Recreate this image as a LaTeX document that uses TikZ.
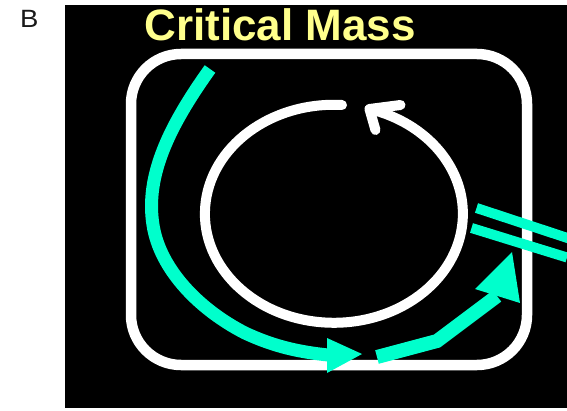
\documentclass[tikz,border=0pt]{standalone}
\usepackage{fontspec}
\setmainfont{Liberation Sans}
\usetikzlibrary{calc}
\definecolor{aqua}{RGB}{0,255,204}
\definecolor{titleyellow}{RGB}{255,255,140}
\definecolor{labelgray}{RGB}{25,25,25}
\tikzset{
  whiteline/.style={draw=white, line width=10.5pt},
  aquaband/.style={draw=aqua, line width=13pt},
  aquabar/.style={draw=aqua, line width=10pt},
}
\begin{document}
\begin{tikzpicture}[x=1pt,y=-1pt]
\useasboundingbox (0,0) rectangle (567,411);
\fill[white] (0,0) rectangle (567,411);
\fill[black] (65,5) rectangle (567,408);
% panel label
\node[font=\fontsize{25}{25}\selectfont, text=labelgray, anchor=base west, inner sep=0] (lbl) at (20,28) {\scalebox{1.1}[1]{B}};
% rounded frame
\draw[whiteline, rounded corners=50pt] (131,54) rectangle (527,365);
% cycle arrow
\draw[whiteline, line width=10pt, line cap=round, line join=round] (342,105) arc[start angle=273.6, end angle=-74, x radius=129, y radius=109] coordinate (tip);
\draw[whiteline, line width=10pt, line cap=round, line join=round] ($(tip)+(31,-4)$) -- (tip) -- ++(6,21);
% left curved arrow
\draw[aquaband] (210,69) .. controls (170,125) and (145,175) .. (153,225)
  .. controls (160,270) and (200,310) .. (245,333)
  .. controls (275,347) and (300,352) .. (328,355);
\fill[aqua] (327,338) -- (362,354) -- (327,373) -- cycle;
% right bent arrow
\draw[aquaband, line width=14pt, line join=miter] (377,357) -- (437,341) -- (497,296);
\fill[aqua] (475,289) -- (512,252) -- (520,303) -- cycle;
% double bar
\draw[aquabar] (476.5,208) -- (572,239.5);
\draw[aquabar] (471.5,228) -- (567,257.5);
% title
\node[font=\bfseries\fontsize{44}{44}\selectfont, text=titleyellow, anchor=base, inner sep=0] (title) at (280,41) {Critical Mass};
\end{tikzpicture}
\end{document}
